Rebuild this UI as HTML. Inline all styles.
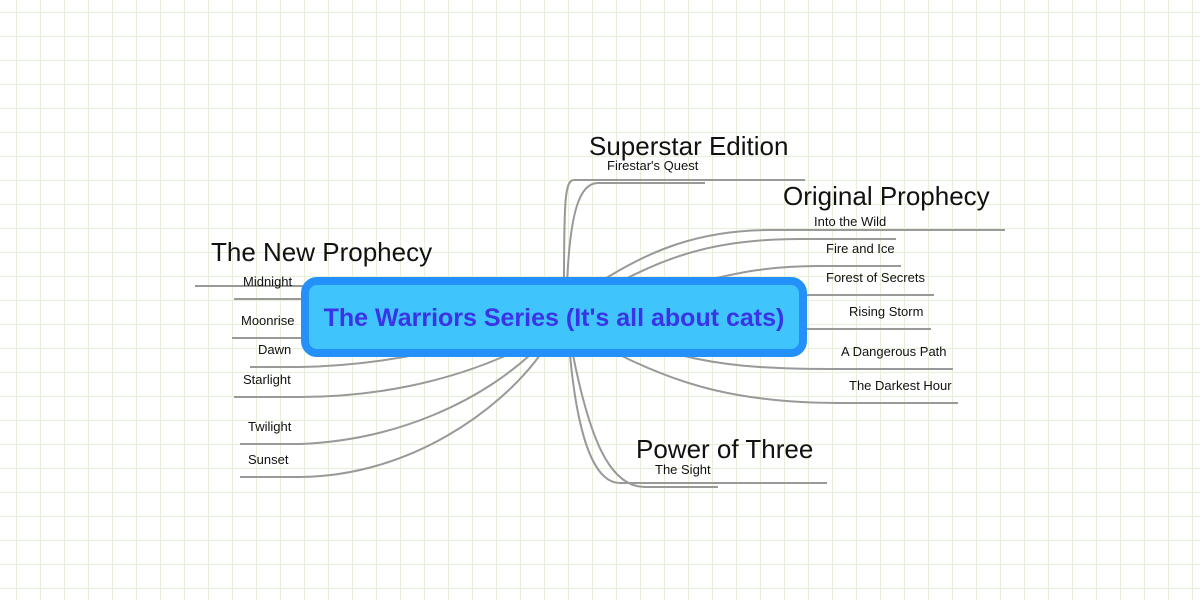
<!DOCTYPE html>
<html><head><meta charset="utf-8"><style>
html,body{margin:0;padding:0;}
body{width:1200px;height:600px;position:relative;overflow:hidden;background:#fff;
background-image:linear-gradient(to right,#e6f0d8 1px,transparent 1px),linear-gradient(to bottom,#e6f0d8 1px,transparent 1px);
background-size:24px 24px;background-position:16px 12px;font-family:"Liberation Sans",sans-serif;}
svg{position:absolute;left:0;top:0;}
.t{position:absolute;white-space:nowrap;color:#111;}
.h{font-size:26px;}
.s{font-size:13px;}
#c{position:absolute;left:301px;top:277px;width:490px;border:8px solid #2491fb;border-radius:16px;background:#40c4fc;
display:flex;align-items:center;justify-content:center;font-weight:bold;font-size:25px;color:#3a33e8;padding-top:3px;box-sizing:content-box;height:61px;}
</style></head><body>
<svg width="1200" height="600" fill="none" stroke="#999" stroke-width="2">
<path d="M564,285 C564,200 565,180 574,180 L805,180"/>
<path d="M567,285 C570,210 580,183 598,183 L705,183"/>
<path d="M600,282 C650,250 700,230 770,230 L1005,230"/>
<path d="M620,282 C670,255 720,239 800,239 L896,239"/>
<path d="M700,282 C740,272 770,266 820,266 L901,266"/>
<path d="M800,295 L934,295"/>
<path d="M800,329 L931,329"/>
<path d="M680,355 C720,365 760,369 830,369 L953,369"/>
<path d="M620,355 C680,385 740,403 840,403 L958,403"/>
<path d="M570,355 C578,440 595,483 620,483 L827,483"/>
<path d="M573,355 C590,440 610,487 645,487 L718,487"/>
<path d="M195,286 L305,286"/>
<path d="M234,299 L305,299"/>
<path d="M232,338 L305,338"/>
<path d="M250,367 L300,367 C350,366 390,360 420,354"/>
<path d="M234,397 L300,397 C380,397 450,380 505,356"/>
<path d="M240,444 L300,444 C400,440 480,400 530,355"/>
<path d="M240,477 L300,477 C410,476 500,410 540,355"/>
</svg>
<div id="c">The Warriors Series (It's all about cats)</div>
<div class="t h" style="left:589px;top:131px;">Superstar Edition</div>
<div class="t s" style="left:607px;top:158px;">Firestar's Quest</div>
<div class="t h" style="left:783px;top:181px;">Original Prophecy</div>
<div class="t s" style="left:814px;top:214px;">Into the Wild</div>
<div class="t s" style="left:826px;top:241px;">Fire and Ice</div>
<div class="t s" style="left:826px;top:270px;">Forest of Secrets</div>
<div class="t s" style="left:849px;top:304px;">Rising Storm</div>
<div class="t s" style="left:841px;top:344px;">A Dangerous Path</div>
<div class="t s" style="left:849px;top:378px;">The Darkest Hour</div>
<div class="t h" style="left:636px;top:434px;">Power of Three</div>
<div class="t s" style="left:655px;top:462px;">The Sight</div>
<div class="t h" style="left:211px;top:237px;">The New Prophecy</div>
<div class="t s" style="left:243px;top:274px;">Midnight</div>
<div class="t s" style="left:241px;top:313px;">Moonrise</div>
<div class="t s" style="left:258px;top:342px;">Dawn</div>
<div class="t s" style="left:243px;top:372px;">Starlight</div>
<div class="t s" style="left:248px;top:419px;">Twilight</div>
<div class="t s" style="left:248px;top:452px;">Sunset</div>
</body></html>
